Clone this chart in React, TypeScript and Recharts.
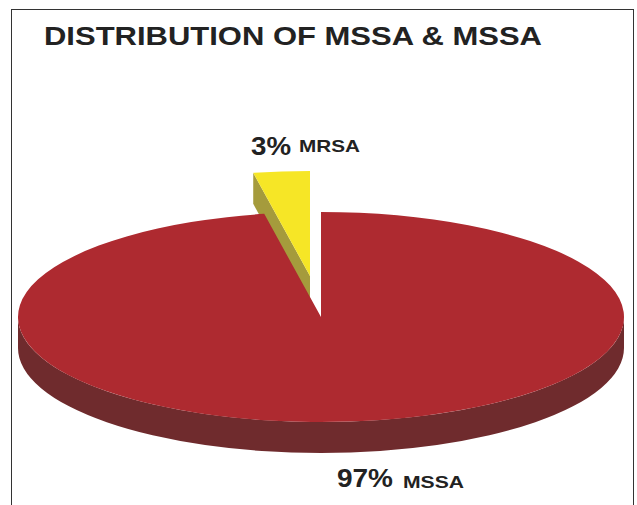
import { PieChart, Pie, Cell } from 'recharts';

const title = 'DISTRIBUTION OF MSSA & MSSA';
const categories = ['MRSA', 'MSSA'];
const shares = [3, 97];
const topColors = ['#F6E626', '#AE2A30'];
const sideColors = ['#A59B3C', '#6F2B2D'];

const chartData = categories.map((name, i) => ({ name, value: shares[i] }));

const W = 637;
const H = 505;
const CX = 321;
const CY = 317;
const RX = 303;
const RY = 105; // squashed pie
const DEPTH = 31;
const RAD = Math.PI / 180;

// start so that the MRSA slice ends at 12 o'clock
const startAngle = 90 + (360 * shares[0]) / (shares[0] + shares[1]);

function pt(cx: number, cy: number, a: number, ry: number, r: number) {
  return [cx + r * Math.cos(a * RAD), cy - ry * Math.sin(a * RAD)];
}

// 3D-ish sector: recharts hands us the angles, we flatten them to an ellipse
function FlatSector(props: any) {
  const { cx, cy, outerRadius: r, startAngle: a0, endAngle: a1, payload, index } = props;
  const i = index ?? categories.indexOf(payload.name);
  const ry = (r * RY) / RX;
  // pulled-out slice
  const dx = payload.name === 'MRSA' ? -11 : 0;
  const dy = payload.name === 'MRSA' ? -41 : 0;
  const x = cx + dx;
  const y = cy + dy;

  const [sx, sy] = pt(x, y, a0, ry, r);
  const [ex, ey] = pt(x, y, a1, ry, r);
  const large = Math.abs(a0 - a1) > 180 ? 1 : 0;
  const top = `M${x},${y} L${sx},${sy} A${r},${ry} 0 ${large} 1 ${ex},${ey} Z`;
  const edge = `M${x},${y} L${sx},${sy} L${sx},${sy + DEPTH} L${x},${y + DEPTH} Z`;

  // rim only shows on the front half of the ellipse (0 to -180 going clockwise)
  const hi = Math.min(a0, 0);
  const lo = Math.max(a1, -180);
  let rim = null;
  if (hi > lo) {
    const [rx0, ry0] = pt(x, y, hi, ry, r);
    const [rx1, ry1] = pt(x, y, lo, ry, r);
    rim = `M${rx0},${ry0} A${r},${ry} 0 0 1 ${rx1},${ry1} L${rx1},${ry1 + DEPTH} A${r},${ry} 0 0 0 ${rx0},${ry0 + DEPTH} Z`;
  }

  return (
    <g>
      <path d={edge} fill={sideColors[i]} />
      {rim && <path d={rim} fill={sideColors[i]} />}
      <path d={top} fill={topColors[i]} />
    </g>
  );
}

function SliceLabel(props: any) {
  const { name, value } = props;
  const isSmall = name === 'MRSA';
  const x = isSmall ? 251 : 337;
  const y = isSmall ? 155 : 487;
  return (
    <g fill="#222" fontFamily="Liberation Sans" fontWeight="bold">
      <text x={x} y={y} fontSize={26} textLength={isSmall ? 40 : 56} lengthAdjust="spacingAndGlyphs">
        {value}%
      </text>
      <text x={isSmall ? 299 : 403} y={y + (isSmall ? -3 : 1)} fontSize={17} textLength={61} lengthAdjust="spacingAndGlyphs">
        {name}
      </text>
    </g>
  );
}

export default function App() {
  return (
    <div style={{ position: 'fixed', left: 0, top: 0, width: W, height: H, background: '#fff' }}>
      {/* frame, open at the bottom */}
      <div
        style={{
          position: 'absolute',
          left: 11,
          top: 9,
          width: 623,
          height: H - 9,
          borderLeft: '1.5px solid #333',
          borderTop: '1.5px solid #333',
          borderRight: '1.5px solid #333',
          boxSizing: 'border-box',
        }}
      />
      <div style={{ position: 'absolute', left: 0, top: 0 }}>
        <PieChart width={W} height={H} margin={{ top: 0, right: 0, bottom: 0, left: 0 }}>
          <text x={44} y={45} fontSize={26} fontFamily="Liberation Sans" fontWeight="bold" fill="#222" textLength={498} lengthAdjust="spacingAndGlyphs">
            {title}
          </text>
          <Pie
            data={chartData}
            dataKey="value"
            nameKey="name"
            cx={CX}
            cy={CY}
            innerRadius={0}
            outerRadius={RX}
            startAngle={startAngle}
            endAngle={startAngle - 360}
            stroke="none"
            label={SliceLabel}
            labelLine={false}
            shape={FlatSector}
            isAnimationActive={false}
          >
            {chartData.map((d, i) => (
              <Cell key={d.name} fill={topColors[i]} />
            ))}
          </Pie>
        </PieChart>
      </div>
    </div>
  );
}
